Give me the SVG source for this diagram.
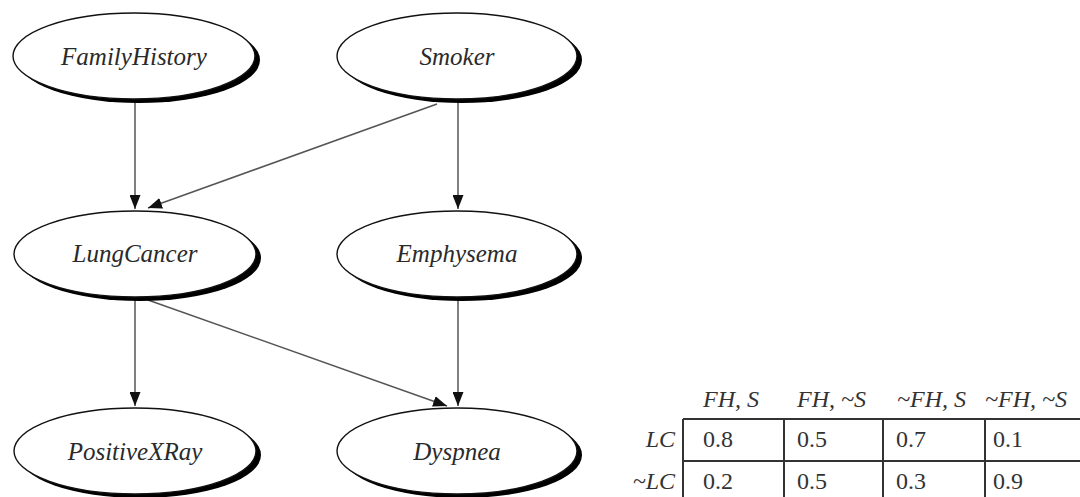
<svg xmlns="http://www.w3.org/2000/svg" width="1080" height="497" viewBox="0 0 1080 497">
  <defs>
    <style>
      .shadow { fill: #000; }
      .node { fill: #fff; stroke: #111; stroke-width: 1.4; }
      .label { font-family: "Liberation Serif", "Times New Roman", serif; font-style: italic; font-size: 25px; fill: #2a2a2a; text-anchor: middle; }
      .edge { stroke: #555; stroke-width: 1.5; fill: none; marker-end: url(#arrow); }
      .grid { stroke: #333; stroke-width: 2; fill: none; }
      .head { font-family: "Liberation Serif", "Times New Roman", serif; font-style: italic; font-size: 24px; fill: #333; }
      .cell { font-family: "Liberation Serif", "Times New Roman", serif; font-size: 24px; fill: #333; }
    </style>
    <marker id="arrow" viewBox="0 0 14 11" refX="14" refY="5.5" markerWidth="14" markerHeight="11" markerUnits="userSpaceOnUse" orient="auto">
      <path d="M0,0 L14,5.5 L0,11 Z" fill="#111"/>
    </marker>
  </defs>

  <!-- connectors -->
  <g id="edges">
    <line class="edge" x1="135" y1="99" x2="135" y2="209"/>
    <line class="edge" x1="437" y1="104" x2="148" y2="208"/>
    <line class="edge" x1="458" y1="100" x2="458" y2="209"/>
    <line class="edge" x1="135" y1="298" x2="135" y2="406"/>
    <line class="edge" x1="148" y1="300" x2="447" y2="406"/>
    <line class="edge" x1="458" y1="298" x2="458" y2="406"/>
  </g>

  <!-- nodes: black offset ellipse under a white outlined ellipse -->
  <g id="FamilyHistory">
    <ellipse class="shadow" cx="139" cy="60" rx="121" ry="43"/>
    <ellipse class="node" cx="134" cy="56" rx="121" ry="43"/>
    <text class="label" x="134" y="65">FamilyHistory</text>
  </g>
  <g id="Smoker">
    <ellipse class="shadow" cx="462" cy="60" rx="120" ry="43"/>
    <ellipse class="node" cx="457" cy="56" rx="120" ry="43"/>
    <text class="label" x="457" y="65">Smoker</text>
  </g>
  <g id="LungCancer">
    <ellipse class="shadow" cx="140" cy="258" rx="121" ry="43"/>
    <ellipse class="node" cx="135" cy="254" rx="121" ry="43"/>
    <text class="label" x="135" y="262">LungCancer</text>
  </g>
  <g id="Emphysema">
    <ellipse class="shadow" cx="462" cy="258" rx="120" ry="43"/>
    <ellipse class="node" cx="457" cy="254" rx="120" ry="43"/>
    <text class="label" x="457" y="262">Emphysema</text>
  </g>
  <g id="PositiveXRay">
    <ellipse class="shadow" cx="140" cy="455" rx="121" ry="43"/>
    <ellipse class="node" cx="135" cy="451" rx="121" ry="43"/>
    <text class="label" x="135" y="460">PositiveXRay</text>
  </g>
  <g id="Dyspnea">
    <ellipse class="shadow" cx="462" cy="455" rx="120" ry="43"/>
    <ellipse class="node" cx="457" cy="451" rx="120" ry="43"/>
    <text class="label" x="457" y="460">Dyspnea</text>
  </g>

  <!-- conditional probability table for LungCancer -->
  <g id="cpt">
    <text class="head" x="703" y="407">FH, S</text>
    <text class="head" x="797" y="407">FH, ~S</text>
    <text class="head" x="897" y="407">~FH, S</text>
    <text class="head" x="985" y="407">~FH, ~S</text>
    <text class="head" x="675" y="447" text-anchor="end">LC</text>
    <text class="head" x="675" y="489" text-anchor="end">~LC</text>
    <path class="grid" d="M683,419 H1080 M683,461 H1080 M683,419 V497 M784,419 V497 M883,419 V497 M985,419 V497"/>
    <text class="cell" x="703" y="447">0.8</text>
    <text class="cell" x="797" y="447">0.5</text>
    <text class="cell" x="896" y="447">0.7</text>
    <text class="cell" x="993" y="447">0.1</text>
    <text class="cell" x="703" y="489">0.2</text>
    <text class="cell" x="797" y="489">0.5</text>
    <text class="cell" x="896" y="489">0.3</text>
    <text class="cell" x="993" y="489">0.9</text>
  </g>
</svg>
